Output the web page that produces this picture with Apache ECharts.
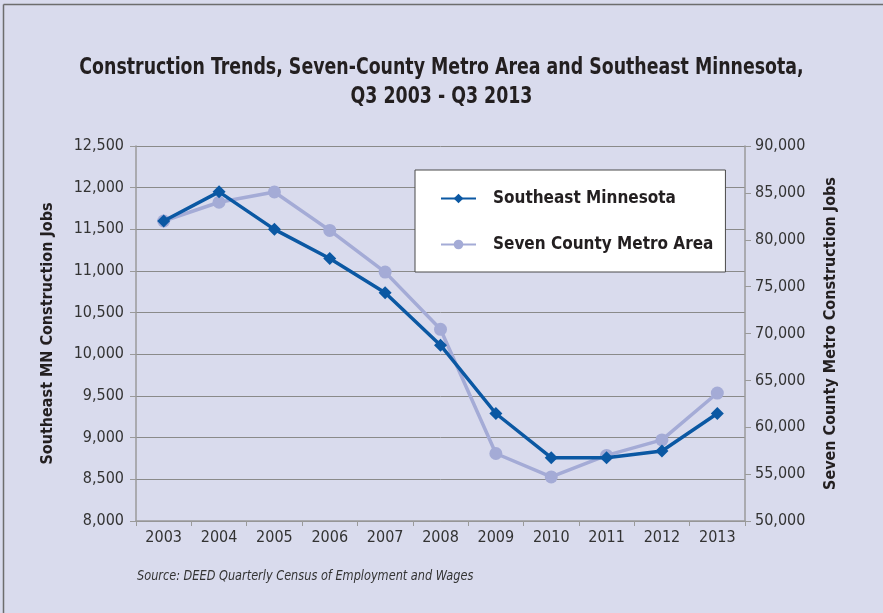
<!DOCTYPE html>
<html><head><meta charset="utf-8">
<script src="https://cdn.jsdelivr.net/npm/echarts@6/dist/echarts.min.js"></script>
<style>html,body{margin:0;padding:0;background:#d9dbed;}#c{width:883px;height:613px;}</style>
</head><body><div id="c"></div>
<script>
const years = ['2003','2004','2005','2006','2007','2008','2009','2010','2011','2012','2013'];
const southeastMN = [11600, 11950, 11500, 11150, 10740, 10110, 9290, 8760, 8760, 8840, 9290];
const sevenCounty = [82000, 84000, 85100, 81000, 76550, 70450, 57200, 54700, 57000, 58650, 63650];
const titleText = 'Construction Trends, Seven-County Metro Area and Southeast Minnesota,\nQ3 2003 - Q3 2013';
const sourceText = 'Source: DEED Quarterly Census of Employment and Wages';

const cond = '"Liberation Sans Narrow","DejaVu Sans Condensed",sans-serif';
const chart = echarts.init(document.getElementById('c'));
chart.setOption({
  backgroundColor: '#d9dbed',
  animation: false,
  graphic: [
    {type: 'line', shape: {x1: 3.5, y1: 4.5, x2: 883, y2: 4.5}, style: {stroke: '#6d6d6d', lineWidth: 1.5}},
    {type: 'line', shape: {x1: 3.5, y1: 4.5, x2: 3.5, y2: 613}, style: {stroke: '#6d6d6d', lineWidth: 1.5}},
    {type: 'text', x: 441.5, y: 54, scaleX: 0.84,
     style: {text: titleText, textAlign: 'center', fontFamily: cond, fontSize: 23, fontWeight: 'bold', fill: '#231f20', lineHeight: 29}},
    {type: 'text', x: 137, y: 569, scaleX: 0.9,
     style: {text: sourceText, fontFamily: cond, fontStyle: 'italic', fontSize: 14, fill: '#333'}}
  ],
  legend: {
    orient: 'vertical', left: 415, top: 170,
    backgroundColor: '#fff', borderColor: '#4a4a4a', borderWidth: 1,
    padding: [20, 12, 19, 25], itemGap: 29, itemWidth: 35, itemHeight: 12,
    textStyle: {fontFamily: cond, fontSize: 17, fontWeight: 'bold', color: '#231f20', padding: [0, 0, 0, 12]},
    data: ['Southeast Minnesota', 'Seven County Metro Area']
  },
  grid: {left: 136, right: 138, top: 146, bottom: 92},
  xAxis: {
    type: 'category', data: years, boundaryGap: true,
    axisLine: {lineStyle: {color: '#9a9a9a', width: 1.5}},
    axisTick: {show: true, length: 5, lineStyle: {color: '#9a9a9a'}},
    axisLabel: {fontFamily: cond, fontSize: 16, color: '#333', margin: 9}
  },
  yAxis: [
    {
      type: 'value', min: 8000, max: 12500, interval: 500, position: 'left',
      name: 'Southeast MN Construction Jobs', nameLocation: 'middle', nameGap: 80,
      nameTextStyle: {fontFamily: cond, fontSize: 16, fontWeight: 'bold', color: '#231f20'},
      axisLine: {show: true, lineStyle: {color: '#9a9a9a', width: 1.5}},
      axisTick: {show: true, length: 6, lineStyle: {color: '#9a9a9a'}},
      axisLabel: {fontFamily: cond, fontSize: 16, color: '#333', margin: 12,
        formatter: v => v.toLocaleString('en-US')},
      splitLine: {show: true, lineStyle: {color: '#8a8a8a', width: 1}}
    },
    {
      type: 'value', min: 50000, max: 90000, interval: 5000, position: 'right',
      name: 'Seven County Metro Construction Jobs', nameLocation: 'middle', nameGap: 78,
      nameRotate: 90,
      nameTextStyle: {fontFamily: cond, fontSize: 16, fontWeight: 'bold', color: '#231f20'},
      axisLine: {show: true, lineStyle: {color: '#9a9a9a', width: 1.5}},
      axisTick: {show: true, length: 6, lineStyle: {color: '#9a9a9a'}},
      axisLabel: {fontFamily: cond, fontSize: 16, color: '#333', margin: 10,
        formatter: v => v.toLocaleString('en-US')},
      splitLine: {show: false}
    }
  ],
  series: [
    {
      name: 'Southeast Minnesota', type: 'line', yAxisIndex: 0, data: southeastMN,
      symbol: 'diamond', symbolSize: 13,
      lineStyle: {color: '#0b58a3', width: 3.5}, itemStyle: {color: '#0b58a3'}, z: 3
    },
    {
      name: 'Seven County Metro Area', type: 'line', yAxisIndex: 1, data: sevenCounty,
      symbol: 'circle', symbolSize: 13,
      lineStyle: {color: '#a4abd6', width: 3.5}, itemStyle: {color: '#a4abd6'}, z: 2
    }
  ]
});
</script></body></html>
